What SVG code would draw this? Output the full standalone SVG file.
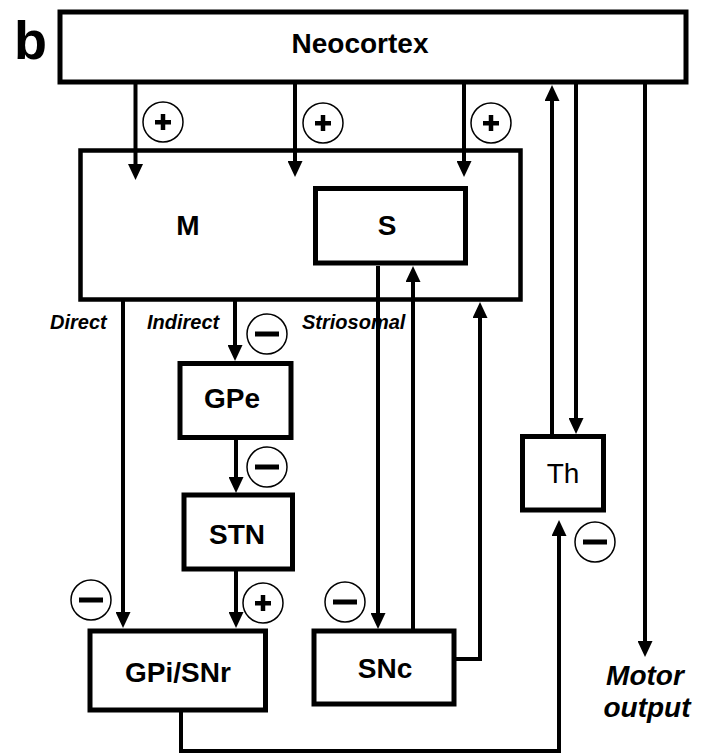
<svg xmlns="http://www.w3.org/2000/svg" width="701" height="756" viewBox="0 0 701 756">
<style>
.box{fill:#fff;stroke:#000;stroke-width:5}
.lbl{font-family:"Liberation Sans",Arial,sans-serif;font-weight:bold;font-size:28px;text-anchor:middle;fill:#000}
.path{font-family:"Liberation Sans",Arial,sans-serif;font-weight:bold;font-style:italic;font-size:20px;fill:#000}
.c{fill:none;stroke:#000;stroke-width:4}
.a{marker-end:url(#ah)}
.sg{fill:#fff;stroke:#000;stroke-width:1.5}
.bar{fill:#000}
</style>
<defs>
<marker id="ah" markerUnits="userSpaceOnUse" viewBox="0 0 16 15" markerWidth="16" markerHeight="15" refX="6" refY="7.5" orient="auto">
<path d="M0,0 L16,7.5 L0,15 z" fill="#000"/>
</marker>
</defs>
<rect width="701" height="756" fill="#fff"/>
<text x="14" y="59" font-family="Liberation Sans,Arial,sans-serif" font-weight="bold" font-size="54">b</text>

<g id="pathway-labels">
<text class="path" x="50" y="329">Direct</text>
<text class="path" x="147" y="329">Indirect</text>
<text class="path" x="302" y="329">Striosomal</text>
</g>

<g id="connectors">
<line class="c a" x1="135.5" y1="84" x2="135.5" y2="170"/>
<line class="c a" x1="295" y1="84" x2="295" y2="167"/>
<line class="c a" x1="464" y1="84" x2="464" y2="167"/>
<line class="c a" x1="552" y1="436" x2="552" y2="95"/>
<line class="c a" x1="576" y1="84" x2="576" y2="424"/>
<line class="c a" x1="645" y1="84" x2="645" y2="647"/>
<line class="c a" x1="123" y1="301" x2="123" y2="618"/>
<line class="c a" x1="235" y1="301" x2="235" y2="351"/>
<line class="c a" x1="236" y1="440" x2="236" y2="483"/>
<line class="c a" x1="236" y1="571" x2="236" y2="618"/>
<line class="c a" x1="378" y1="266" x2="378" y2="619"/>
<line class="c a" x1="413" y1="629" x2="413" y2="276"/>
<polyline class="c a" points="456,659 480,659 480,312"/>
<polyline class="c a" points="181,712 181,751 559,751 559,530"/>
</g>

<g id="signs">
<g id="sign-p1"><circle class="sg" cx="163" cy="122" r="20"/><rect class="bar" x="155" y="120" width="16" height="4.5"/><rect class="bar" x="160.75" y="114" width="4.5" height="16"/></g>
<g id="sign-p2"><circle class="sg" cx="323" cy="123" r="20"/><rect class="bar" x="315" y="121" width="16" height="4.5"/><rect class="bar" x="320.75" y="115" width="4.5" height="16"/></g>
<g id="sign-p3"><circle class="sg" cx="491" cy="123" r="20"/><rect class="bar" x="483" y="121" width="16" height="4.5"/><rect class="bar" x="488.75" y="115" width="4.5" height="16"/></g>
<g id="sign-m1"><circle class="sg" cx="267" cy="334" r="20"/><rect class="bar" x="255" y="331.5" width="24" height="5"/></g>
<g id="sign-m2"><circle class="sg" cx="267" cy="467" r="20"/><rect class="bar" x="255" y="464.5" width="24" height="5"/></g>
<g id="sign-m3"><circle class="sg" cx="91" cy="600" r="20"/><rect class="bar" x="79" y="597.5" width="24" height="5"/></g>
<g id="sign-p4"><circle class="sg" cx="263" cy="603" r="20"/><rect class="bar" x="255" y="601" width="16" height="4.5"/><rect class="bar" x="260.75" y="595" width="4.5" height="16"/></g>
<g id="sign-m4"><circle class="sg" cx="345" cy="602" r="20"/><rect class="bar" x="333" y="599.5" width="24" height="5"/></g>
<g id="sign-m5"><circle class="sg" cx="595" cy="542" r="20"/><rect class="bar" x="583" y="539.5" width="24" height="5"/></g>
</g>

<g id="neocortex"><rect class="box" x="60" y="12" width="626" height="70"/><text class="lbl" x="360" y="53">Neocortex</text></g>
<g id="M"><rect class="box" x="80.5" y="150.5" width="440" height="149" style="fill:none;stroke-width:4.5"/><text class="lbl" x="188" y="235">M</text></g>
<g id="S"><rect class="box" x="315.5" y="188.5" width="150" height="74.5"/><text class="lbl" x="387" y="235">S</text></g>
<g id="GPe"><rect class="box" x="180" y="363.5" width="111" height="74"/><text class="lbl" x="232" y="408">GPe</text></g>
<g id="STN"><rect class="box" x="184" y="495" width="108.5" height="74"/><text class="lbl" x="237" y="544">STN</text></g>
<g id="GPiSNr"><rect class="box" x="90" y="631" width="175.5" height="79"/><text class="lbl" x="178" y="682">GPi/SNr</text></g>
<g id="SNc"><rect class="box" x="314" y="631" width="140" height="73"/><text class="lbl" x="385" y="678">SNc</text></g>
<g id="Th"><rect class="box" x="522.5" y="436.5" width="81" height="73.5"/><text class="lbl" x="563" y="483" style="font-weight:normal">Th</text></g>
<g id="motor"><text class="lbl" x="645" y="685" style="font-style:italic">Motor</text><text class="lbl" x="647" y="717" style="font-style:italic">output</text></g>
</svg>
